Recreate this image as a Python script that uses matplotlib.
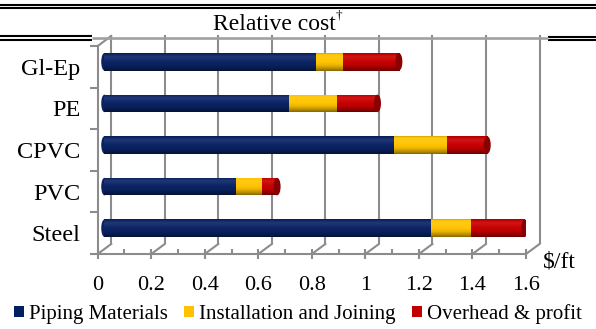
import numpy as np
import matplotlib
matplotlib.use("Agg")
import matplotlib.pyplot as plt
from matplotlib.patches import Ellipse, Patch
from matplotlib.lines import Line2D
from matplotlib.colors import to_rgb

plt.rcParams['font.family'] = ['Liberation Serif', 'DejaVu Serif']

# ---------------- data ----------------
categories = ["Gl-Ep", "PE", "CPVC", "PVC", "Steel"]
piping_materials = [0.79, 0.69, 1.08, 0.49, 1.22]
installation_joining = [0.10, 0.18, 0.20, 0.10, 0.15]
overhead_profit = [0.21, 0.15, 0.15, 0.055, 0.20]
series_names = ["Piping Materials", "Installation and Joining", "Overhead & profit"]
xtick_values = [0, 0.2, 0.4, 0.6, 0.8, 1.0, 1.2, 1.4, 1.6]
xtick_labels = ["0", "0.2", "0.4", "0.6", "0.8", "1", "1.2", "1.4", "1.6"]
title_text = "Relative cost"
unit_text = r"\$/ft"

# ---------------- style ----------------
bar_colors = ["#0B2466", "#FFC400", "#C80000"]
legend_colors = ["#002060", "#FFC000", "#C00000"]
grid_gray = "#8C8C8C"

W, H = 596, 329
fig = plt.figure(figsize=(W / 100, H / 100), dpi=100)

x0p, x1p = 97.7, 526.0
ytp, ybp = 46.0, 254.0
ax = fig.add_axes([x0p / W, 1 - ybp / H, (x1p - x0p) / W, (ybp - ytp) / H])
ax.set_xlim(0, 1.6)
ax.set_ylim(0, 5)
ax.patch.set_visible(False)

xs = (x1p - x0p) / 1.6
ys = (ybp - ytp) / 5
dxb, dyb = 13.5 / xs, 10.0 / ys      # back-wall depth offset in data units
dxm, dym = dxb / 2, dyb / 2           # mid depth (bars)

# spines / ticks (front plane)
for s in ["top", "right"]:
    ax.spines[s].set_visible(False)
for s in ["left", "bottom"]:
    ax.spines[s].set_color(grid_gray)
    ax.spines[s].set_linewidth(1.5)
    ax.spines[s].set_zorder(5)

ax.set_xticks(xtick_values)
ax.set_xticklabels(xtick_labels, fontsize=16)
ax.set_xticks(np.arange(0.1, 1.6, 0.2), minor=True)
ax.tick_params(axis="x", which="major", direction="inout", length=7.5, width=1.5,
               color=grid_gray, pad=12)
ax.tick_params(axis="x", which="minor", direction="in", length=3.5, width=1.5,
               color=grid_gray)

ncat = len(categories)
ax.set_yticks(np.arange(0, ncat + 1))
ax.set_yticklabels([""] * (ncat + 1))
ax.set_yticks([ncat - 0.5 - i for i in range(ncat)], minor=True)
ax.set_yticklabels(categories, minor=True, fontsize=17.5)
ax.tick_params(axis="y", which="major", direction="out", length=6, width=1.5,
               color=grid_gray)
ax.tick_params(axis="y", which="minor", length=0, pad=12.5)

# back wall gridlines and floor diagonals
for t in xtick_values:
    ax.plot([t + dxb, t + dxb], [dyb, ncat + dyb + 0.03], color=grid_gray, lw=1.5,
            clip_on=False, zorder=1, solid_capstyle="butt")
    ax.plot([t, t + dxb], [0, dyb], color=grid_gray, lw=1.5, clip_on=False, zorder=1)
ax.plot([0, dxb], [ncat, ncat + dyb], color=grid_gray, lw=1.5, clip_on=False, zorder=1)


# cylinder shading
def shade(color, n=60):
    c = np.array(to_rgb(color))
    tk = [0.0, 0.06, 0.2, 0.42, 0.68, 0.88, 1.0]
    fk = [0.80, 1.0, 1.15, 1.04, 0.92, 0.70, 0.52]
    t = np.linspace(0, 1, n)
    f = np.interp(t, tk, fk)
    out = np.empty((n, 1, 3))
    for i, fi in enumerate(f):
        if fi >= 1:
            out[i, 0] = c + (1 - c) * (fi - 1) * 0.6
        else:
            out[i, 0] = c * fi
    return np.clip(out, 0, 1)


bar_h = 0.42
series = [piping_materials, installation_joining, overhead_profit]
for i in range(ncat):
    yc = ncat - 0.5 - i + dym
    # left rounded end
    lc = Ellipse((0 + dxm, yc), width=0.024, height=bar_h,
                 facecolor=np.array(to_rgb(bar_colors[0])) * 0.95, edgecolor="none", zorder=2.5)
    ax.add_patch(lc)
    left = 0.0
    for s, vals in enumerate(series):
        w = vals[i]
        bars = ax.barh(yc, w, left=left + dxm, height=bar_h, color="none",
                       edgecolor="none", zorder=3)
        rect = bars.patches[0]
        im = ax.imshow(shade(bar_colors[s]), extent=(left + dxm, left + w + dxm,
                       yc - bar_h / 2, yc + bar_h / 2), aspect="auto",
                       interpolation="bilinear", zorder=3)
        im.set_clip_path(rect)
        left += w
    end_col = np.array(to_rgb(bar_colors[2])) * 0.68
    ec = Ellipse((left + dxm, yc), width=0.026, height=bar_h, facecolor=end_col,
                 edgecolor="none", zorder=3.5)
    ax.add_patch(ec)

ax.set_xlim(0, 1.6)
ax.set_ylim(0, 5)

# header rules
def hline(xa, xb, y, color="black", lw=1.5):
    fig.add_artist(Line2D([xa / W, xb / W], [1 - y / H, 1 - y / H], color=color, lw=lw,
                          transform=fig.transFigure, solid_capstyle="butt"))

hline(0, W, 5.0)
hline(0, W, 8.3)
hline(0, 92, 36.2)
hline(0, 92, 40.0)
hline(548, W, 37.0)
hline(548, W, 40.2)
hline(92, 548, 38.0, color="#A0A0A0", lw=1.9)

# texts
fig.text(213 / W, 1 - 30 / H, title_text, fontsize=17, ha="left", va="baseline")
fig.text(336 / W, 1 - 19 / H, "\u2020", fontsize=9.5, ha="left", va="baseline")
fig.text(543 / W, 1 - 262 / H, unit_text, fontsize=17, ha="left", va="center")

handles = [Patch(facecolor=c, edgecolor="none", label=n) for c, n in zip(legend_colors, series_names)]
fig.legend(handles=handles, loc="center", bbox_to_anchor=(0.5, 1 - 314 / H), ncol=3,
           frameon=False, fontsize=15, handlelength=0.48, handleheight=0.48,
           handletextpad=0.22, columnspacing=0.8, borderpad=0, borderaxespad=0)

fig.savefig("out.png", dpi=100)
